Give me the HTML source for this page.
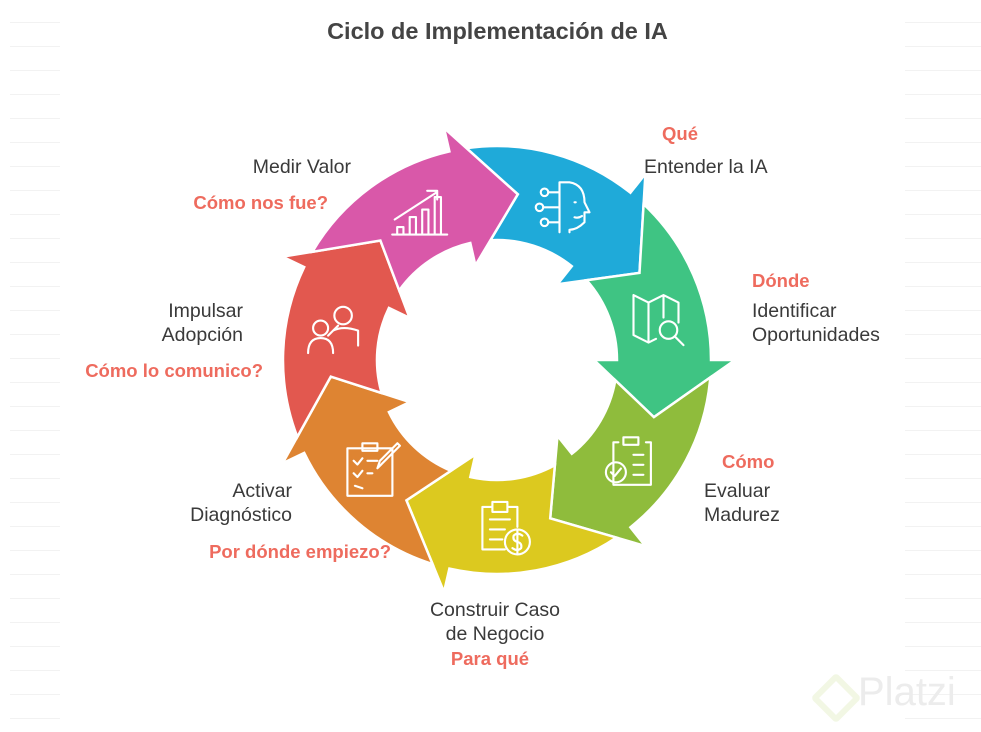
<!DOCTYPE html>
<html><head><meta charset="utf-8">
<style>
html,body{margin:0;padding:0;background:#fff;}
body{width:981px;height:732px;position:relative;overflow:hidden;font-family:"Liberation Sans",Arial,sans-serif;}
.t{position:absolute;font-size:19.5px;color:#3a3a3a;line-height:24px;white-space:nowrap;}
.r{position:absolute;font-size:18.5px;color:#ee6b5e;font-weight:bold;line-height:24px;white-space:nowrap;}
.grid{position:absolute;height:1px;background:#f2f2f2;}
</style></head><body>
<div id="grids"></div>
<div style="position:absolute;left:0;width:995px;top:18px;text-align:center;font-size:23.5px;font-weight:bold;color:#444;">Ciclo de Implementación de IA</div>
<svg id="s" width="981" height="732" style="position:absolute;left:0;top:0"></svg>

<div class="r" style="left:662px;top:122px">Qué</div>
<div class="t" style="left:644px;top:155px">Entender la IA</div>
<div class="r" style="left:752px;top:269px">Dónde</div>
<div class="t" style="left:752px;top:299px">Identificar<br>Oportunidades</div>
<div class="r" style="left:722px;top:450px">Cómo</div>
<div class="t" style="left:704px;top:479px">Evaluar<br>Madurez</div>
<div class="t" style="left:395px;width:200px;text-align:center;top:598px">Construir Caso<br>de Negocio</div>
<div class="r" style="left:390px;width:200px;text-align:center;top:647px">Para qué</div>
<div class="t" style="left:92px;width:200px;text-align:right;top:479px">Activar<br>Diagnóstico</div>
<div class="r" style="left:191px;width:200px;text-align:right;top:540px">Por dónde empiezo?</div>
<div class="t" style="left:43px;width:200px;text-align:right;top:299px">Impulsar<br>Adopción</div>
<div class="r" style="left:63px;width:200px;text-align:right;top:359px">Cómo lo comunico?</div>
<div class="t" style="left:151px;width:200px;text-align:right;top:155px">Medir Valor</div>
<div class="r" style="left:128px;width:200px;text-align:right;top:191px">Cómo nos fue?</div>
<div style="position:absolute;left:858px;top:670px;font-size:40px;color:#ececec;">Platzi</div>
<div style="position:absolute;left:818px;top:680px;width:24px;height:24px;border:6px solid #f2f7e4;transform:rotate(45deg);border-radius:4px;"></div>

<script>
var g='';
for(var y=22;y<720;y+=24){g+='<div class="grid" style="left:10px;width:50px;top:'+y+'px"></div><div class="grid" style="left:905px;width:76px;top:'+y+'px"></div>';}
document.getElementById('grids').innerHTML=g;
var cx=497,cy=360,R=214,r=120,D=360/7,T=20,WO=238,WI=97,M=167;
function pt(rad,a){a=a*Math.PI/180;return [cx+rad*Math.cos(a),cy+rad*Math.sin(a)];}
function S(p){return p[0].toFixed(1)+','+p[1].toFixed(1);}
function hit(p,q,rad){ // point on segment p->q at distance rad from center (bisection)
 var lo=0,hi=1;
 var f=function(t){var x=p[0]+(q[0]-p[0])*t-cx,y=p[1]+(q[1]-p[1])*t-cy;return Math.sqrt(x*x+y*y)-rad;};
 var s0=f(0);
 for(var k=0;k<50;k++){var m=(lo+hi)/2;if((f(m)>0)==(s0>0))lo=m;else hi=m;}
 var t=(lo+hi)/2;return [p[0]+(q[0]-p[0])*t,p[1]+(q[1]-p[1])*t];
}
function ang(p){return Math.atan2(p[1]-cy,p[0]-cx)*180/Math.PI;}
var cols=['#1faad9','#3fc483','#8fbc3c','#dcc91f','#de8432','#e2584f','#d958a9'];
var bases=[-D,0,D,2*D,3*D,4*D,5*D];
var icons=[
'<circle cx="-16" cy="-12" r="3"/><circle cx="-20" cy="0" r="3"/><circle cx="-16" cy="12" r="3"/><path d="M-13 -12H-4M-17 0H-4M-13 12H-4M-4 -20V20M-4 -20H4Q16 -18 16 -4L20 4H16V12Q10 18 4 18V20M8 -4h1M8 8q3 1 6 -1"/>',
'<path d="M-20 -18L-8 -12L4 -18L16 -12V4M-20 -18V14L-8 20L-2 17M-8 -12V20M4 -18V0"/><circle cx="8" cy="10" r="7"/><path d="M13 15L20 22"/>',
'<path d="M-10 -14H-14V20H16V-14H12M-6 -18H6V-12H-6Z M2 -4H10M2 4H10M2 12H10"/><circle cx="-12" cy="10" r="8"/><path d="M-16 10L-13 13L-8 7"/>',
'<path d="M-8 -16H-16V18H2M12 -16H4M-8 -20H4V-12H-8Z M-10 -6H6M-10 2H2M-10 10H0M12 -16V0"/><circle cx="12" cy="12" r="10"/><path d="M16 7Q12 4 9 7Q8 11 12 12Q16 13 15 17Q12 20 8 17M12 3V21"/>',
'<path d="M-18 -16H18V22H-18Z M-6 -20H6V-14H-6Z M-13 -6L-10 -3L-6 -8M-2 -6H6M-13 4L-10 7L-6 2M-2 4H2M8 -6L22 -20L24 -18L10 -4L6 0Z M-12 14L-6 16"/>',
'<circle cx="-10" cy="0" r="6"/><circle cx="8" cy="-10" r="7"/><path d="M-20 20Q-20 8 -10 8Q0 8 0 20M-4 6Q2 0 4 -2M0 2Q8 -2 20 2V14"/>',
'<path d="M-22 18H22M-18 18V12H-13V18M-8 18V4H-3V18M2 18V-2H7V18M12 18V-12H17V18M-20 6L14 -16M6 -17H14V-10"/>'
];
var s='';
for(var i=0;i<7;i++){
 var b=bases[i],a=b-D;
 // notch from previous arrow head
 var pw=pt(WO,a),pi=pt(WI,a),ptip=pt(M,a+T);
 var xo=hit(pw,ptip,R),xi=hit(pi,ptip,r);
 var d='M'+S(xo)+' A'+R+','+R+' 0 0 1 '+S(pt(R,b))+' L'+S(pt(WO,b))+' L'+S(pt(M,b+T))+' L'+S(pt(WI,b))+' L'+S(pt(r,b))+' A'+r+','+r+' 0 0 0 '+S(xi)+' L'+S(ptip)+' Z';
 s+='<path d="'+d+'" fill="'+cols[i]+'" stroke="#fff" stroke-width="2.5" stroke-linejoin="miter"/>';
 var m=(a+b)/2+11,ar=m*Math.PI/180;
 var ix=cx+167*Math.cos(ar),iy=cy+167*Math.sin(ar);
 s+='<g transform="translate('+ix.toFixed(1)+','+iy.toFixed(1)+') scale(1.25)" fill="none" stroke="#fff" stroke-width="1.7" stroke-linecap="round" stroke-linejoin="round">'+icons[i]+'</g>';
}
document.getElementById('s').innerHTML=s;
</script>
</body></html>
